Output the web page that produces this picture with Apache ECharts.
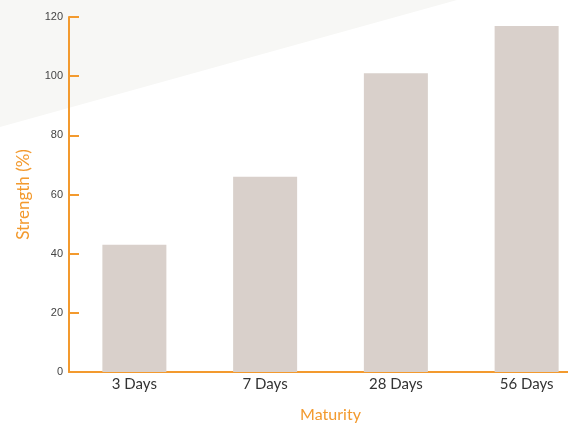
<!DOCTYPE html>
<html>
<head>
<meta charset="utf-8">
<script src="https://cdn.jsdelivr.net/npm/echarts@6/dist/echarts.min.js"></script>
<style>html,body{margin:0;padding:0;background:#fff}#c{width:568px;height:424px}</style>
</head>
<body>
<div id="c"></div>
<script>
var categories = ['3 Days', '7 Days', '28 Days', '56 Days'];
var strengthValues = [43, 66, 101, 117];
var yTicks = [0, 20, 40, 60, 80, 100, 120];

var orange = '#F39A2E';
var chart = echarts.init(document.getElementById('c'), null, {renderer: 'canvas'});
chart.setOption({
  backgroundColor: '#ffffff',
  animation: false,
  textStyle: {fontFamily: 'Lato'},
  graphic: [{
    type: 'polygon',
    z: -10,
    silent: true,
    shape: {points: [[0, 0], [457, 0], [0, 127]]},
    style: {fill: '#F7F7F5'}
  }],
  grid: {left: 69, width: 523, top: 17, bottom: 52, containLabel: false, outerBoundsMode: 'none'},
  xAxis: {
    type: 'category',
    data: categories,
    axisLine: {lineStyle: {color: orange, width: 2}},
    axisTick: {show: false},
    axisLabel: {color: '#333', fontSize: 15, margin: 5, fontFamily: 'Lato'},
    name: 'Maturity',
    nameLocation: 'middle',
    nameGap: 35,
    nameTextStyle: {color: orange, fontSize: 16, fontFamily: 'Lato'}
  },
  yAxis: {
    type: 'value',
    min: 0,
    max: 120,
    interval: 20,
    axisLine: {show: true, lineStyle: {color: orange, width: 2}},
    axisTick: {show: true, inside: true, length: 10, lineStyle: {color: orange, width: 2}},
    splitLine: {show: false},
    axisLabel: {color: '#444', fontSize: 11, margin: 6, fontFamily: 'Liberation Sans',
      formatter: function (v) { return yTicks.indexOf(v) >= 0 ? String(v) : ''; }},
    name: 'Strength (%)',
    nameLocation: 'middle',
    nameGap: 37,
    nameTextStyle: {color: orange, fontSize: 17, fontFamily: 'Lato'}
  },
  series: [{
    type: 'bar',
    data: strengthValues,
    barWidth: 64,
    itemStyle: {color: '#D9D0CB'}
  }]
});
</script>
</body>
</html>
